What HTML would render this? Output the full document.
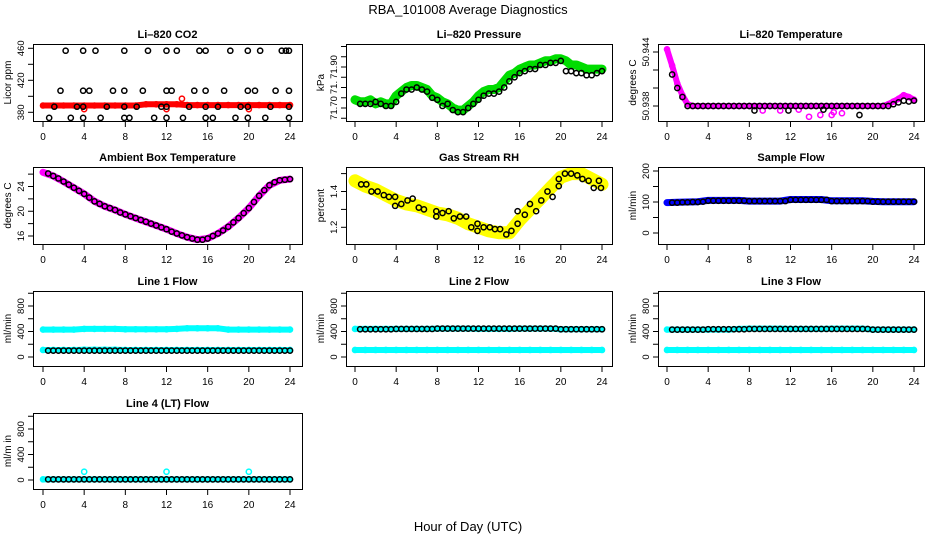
<!DOCTYPE html>
<html><head><meta charset="utf-8"><style>
html,body{margin:0;padding:0;background:#fff;}
svg{display:block;font-family:"Liberation Sans",sans-serif;}
</style></head><body>
<svg id="chart" width="936" height="540" viewBox="0 0 936 540">
<text x="468" y="14" text-anchor="middle" font-size="13">RBA_101008  Average Diagnostics</text>
<text x="468" y="531" text-anchor="middle" font-size="13">Hour of Day (UTC)</text>
</svg>
<script>
// ---------- data ----------
const H = [0,1,2,3,4,5,6,7,8,9,10,11,12,13,14,15,16,17,18,19,20,21,22,23,24];
const HH = [0,0.5,1,1.5,2,2.5,3,3.5,4,4.5,5,5.5,6,6.5,7,7.5,8,8.5,9,9.5,10,10.5,11,11.5,12,12.5,13,13.5,14,14.5,15,15.5,16,16.5,17,17.5,18,18.5,19,19.5,20,20.5,21,21.5,22,22.5,23,23.5,24];
const HB = [0.5,1,1.5,2,2.5,3,3.5,4,4.5,5,5.5,6,6.5,7,7.5,8,8.5,9,9.5,10,10.5,11,11.5,12,12.5,13,13.5,14,14.5,15,15.5,16,16.5,17,17.5,18,18.5,19,19.5,20,20.5,21,21.5,22,22.5,23,23.5,24];
const xTicks = [0,4,8,12,16,20,24];

// CO2
const co2Red = [388.5,388.5,388.5,388.5,388.5,388.5,388.5,388.5,388.5,388.5,390,390,390,390,389,389,389,389,389,389,389,389,389,389,389];
const co2RedOutT = [4,12,20,13.5];
const co2RedOutV = [384,384,384,397];
const co2BlkT = [2.2,3.9,5.1,7.9,10.2,12,13,15.2,15.8,18.2,19.9,21.1,23.2,23.6,23.9,
 1.7,3.9,4.5,6.8,7.9,9.7,12,12.5,14.7,15.8,17.6,19.9,20.6,22.6,23.9,
 1.1,3.3,3.9,6.2,7.9,9.1,11.5,12,14.2,15.8,17,19.2,19.9,22.1,23.9,
 0.6,2.7,3.9,5.6,7.9,8.4,10.8,12,13.6,15.8,16.5,18.7,19.9,21.6,23.9];
const co2BlkV = [457,457,457,457,457,457,457,457,457,457,457,457,457,457,457,
 407,407,407,407,407,407,407,407,407,407,407,407,407,407,407,
 387,387,387,387,387,387,387,387,387,387,387,387,387,387,387,
 373,373,373,373,373,373,373,373,373,373,373,373,373,373,373];

// Pressure
const presGreen = [71.74,71.73,71.73,71.74,71.72,71.73,71.72,71.72,71.76,71.78,71.80,71.81,71.81,71.80,71.79,71.76,71.75,71.73,71.72,71.70,71.69,71.69,71.71,71.73,71.76,71.78,71.79,71.79,71.80,71.83,71.86,71.87,71.89,71.90,71.91,71.91,71.92,71.93,71.93,71.94,71.94,71.93,71.91,71.91,71.90,71.89,71.89,71.89,71.89];
const presBlack = [71.72,71.72,71.72,71.73,71.72,71.71,71.71,71.73,71.77,71.79,71.79,71.80,71.79,71.78,71.75,71.74,71.71,71.72,71.69,71.68,71.68,71.70,71.72,71.74,71.76,71.77,71.77,71.78,71.80,71.83,71.85,71.87,71.88,71.89,71.89,71.91,71.91,71.92,71.92,71.93,71.88,71.88,71.87,71.87,71.86,71.86,71.87,71.88];

// Li-820 temperature
const tempMag = [50.9443,50.9425,50.9405,50.9392,50.9382,50.938,50.938,50.938,50.938,50.938,50.938,50.938,50.938,50.938,50.938,50.938,50.938,50.938,50.938,50.938,50.938,50.938,50.938,50.938,50.938,50.938,50.938,50.938,50.938,50.938,50.938,50.938,50.938,50.938,50.938,50.938,50.938,50.938,50.938,50.938,50.938,50.938,50.938,50.9382,50.9385,50.9388,50.9392,50.9390,50.9387];
const tempBlack = [50.9415,50.9400,50.9390,50.938,50.938,50.938,50.938,50.938,50.938,50.938,50.938,50.938,50.938,50.938,50.938,50.938,50.938,50.938,50.938,50.938,50.938,50.938,50.938,50.938,50.938,50.938,50.938,50.938,50.938,50.938,50.938,50.938,50.938,50.938,50.938,50.938,50.938,50.938,50.938,50.938,50.938,50.938,50.938,50.9382,50.9384,50.9386,50.9385,50.9386];
const tempMagOutT = [9.3,11,13.8,14.9,16,16.2,17,12.8];
const tempMagOutV = [50.9375,50.9375,50.9368,50.9370,50.9370,50.9373,50.9372,50.9376];
const tempBlkOutT = [8.5,11.8,15.2,18.7];
const tempBlkOutV = [50.9375,50.9375,50.9376,50.9370];

// Ambient box temperature
const ambMag = [26.3,25.7,24.8,23.8,22.8,21.6,20.8,20.2,19.5,18.9,18.3,17.7,17.1,16.4,15.8,15.4,15.6,16.4,17.5,18.9,20.5,22.5,24.2,25.0,25.2];
const ambBlack = [26.1,25.7,25.3,24.8,24.3,23.8,23.3,22.8,22.2,21.6,21.2,20.8,20.5,20.2,19.8,19.5,19.2,18.9,18.6,18.3,18.0,17.7,17.4,17.1,16.7,16.4,16.1,15.8,15.6,15.4,15.4,15.6,16.0,16.4,16.9,17.5,18.2,18.9,19.7,20.5,21.5,22.5,23.4,24.2,24.7,25.0,25.1,25.2];

// Gas stream RH
const rhYellow = [1.46,1.43,1.41,1.38,1.35,1.33,1.32,1.30,1.28,1.27,1.25,1.22,1.20,1.18,1.17,1.17,1.24,1.30,1.36,1.42,1.48,1.50,1.50,1.47,1.44];
const rhBlkT = [0.6,1.1,1.6,2.2,2.8,3.3,3.9,3.9,4.5,5.1,5.6,6.2,6.7,7.9,7.9,8.5,9.1,9.6,10.2,10.8,11.3,11.9,11.9,12.5,13.1,13.6,14.1,14.7,15.2,15.8,15.8,16.5,17.0,17.6,18.1,18.7,19.2,19.8,19.8,20.4,21,21.6,22.1,22.7,23.2,23.7,23.9];
const rhBlkV = [1.44,1.44,1.40,1.40,1.38,1.37,1.37,1.32,1.33,1.35,1.36,1.31,1.30,1.29,1.26,1.28,1.29,1.25,1.26,1.26,1.20,1.22,1.18,1.20,1.20,1.19,1.19,1.16,1.18,1.29,1.22,1.27,1.33,1.29,1.35,1.40,1.37,1.47,1.43,1.50,1.50,1.49,1.47,1.46,1.42,1.46,1.42];

// Sample flow
const sampBlue = [98,99,100,101,105,105,105,105,103,103,103,103,108,108,108,108,104,104,104,104,102,101,101,101,101];
const sampBlack = [98,98,99,99,100,100,101,104,104,104,104,104,104,104,104,103,103,103,103,103,103,103,103,107,107,107,107,107,107,107,107,103,103,103,103,103,103,103,103,101,101,101,101,101,101,101,101,101];

// Line flows
const l1CyanHi = [430,430,430,430,440,440,440,440,435,435,435,435,435,440,450,450,450,450,430,430,430,430,430,430,430];
const l1CyanLo = [110,110,110,110,115,115,115,115,110,110,110,110,110,110,110,110,110,110,110,110,110,110,110,110,110];
const l1Black = [100,100,100,100,100,100,100,100,100,100,100,100,100,100,100,100,100,100,100,100,100,100,100,100,100,100,100,100,100,100,100,100,100,100,100,100,100,100,100,100,100,100,100,100,100,100,100,100];
const l2CyanHi = [440,440,440,440,440,440,440,440,445,445,445,445,440,440,440,440,445,445,445,445,435,435,435,435,435];
const l2CyanLo = [110,110,110,110,110,110,110,110,110,110,110,110,110,110,110,110,110,110,110,110,110,110,110,110,110];
const l2Black = [435,435,435,435,435,435,435,440,440,440,440,440,440,440,440,445,445,445,445,445,445,445,445,445,445,445,445,445,445,445,445,445,445,445,445,445,445,445,445,435,435,435,435,435,435,435,435,435];
const l3CyanHi = [430,430,430,430,430,430,430,440,445,445,445,445,440,440,440,440,445,445,445,445,430,430,430,430,430];
const l3CyanLo = [110,110,110,110,110,110,110,110,110,110,110,110,110,110,110,110,110,110,110,110,110,110,110,110,110];
const l3Black = [430,430,430,430,430,430,430,435,435,435,435,435,435,435,435,440,440,440,440,440,440,440,440,440,440,440,440,440,440,440,440,440,440,440,440,440,440,440,440,430,430,430,430,430,430,430,430,430];
const l4Cyan = [10,10,10,10,10,10,10,10,10,10,10,10,10,10,10,10,10,10,10,10,10,10,10,10,10];
const l4Black = [10,10,10,10,10,10,10,10,10,10,10,10,10,10,10,10,10,10,10,10,10,10,10,10,10,10,10,10,10,10,10,10,10,10,10,10,10,10,10,10,10,10,10,10,10,10,10,10];
const l4OutT = [4,12,20];
const l4OutV = [130,130,130];

// ---------- layout ----------
const svg = document.getElementById('chart');
const NS = 'http://www.w3.org/2000/svg';
const colL = [33,346,658], colR = [302,612,924], colX0 = [43,355,667];
const rowT = [44,167,291,413], rowB = [121,244,366,489];

function mk(tag, attrs, parent){
  const e = document.createElementNS(NS, tag);
  for (const k in attrs) e.setAttribute(k, attrs[k]);
  (parent||svg).appendChild(e);
  return e;
}

function panel(name, title, ylabel, col, row, yv0, yp0, yv1, yp1, yTicks, yLabels){
  const g = mk('g', {});
  
  
  const L = colL[col], R = colR[col], T = rowT[row], B = rowB[row];
  const x = t => colX0[col] + t * 247 / 24;
  const y = v => yp0 + (v - yv0) * (yp1 - yp0) / (yv1 - yv0);
  const clipId = 'clip-' + name;
  const cp = mk('clipPath', {id: clipId}, g);
  mk('rect', {x: L, y: T, width: R - L, height: B - T}, cp);
  const plot = mk('g', {'clip-path': 'url(#' + clipId + ')'}, g);
  
  
  const frame = mk('rect', {x: L + 0.5, y: T + 0.5, width: R - L, height: B - T, fill: 'none', stroke: '#000', 'stroke-width': 1}, g);
  
  
  const tt = mk('text', {x: (L + R) / 2, y: T - 6, 'text-anchor': 'middle', 'font-size': 11, 'font-weight': 'bold'}, g);
  tt.textContent = title;
  
  
  xTicks.forEach(t => {
    mk('line', {x1: x(t), x2: x(t), y1: B + 1, y2: B + 6, stroke: '#000'}, g);
    const lb = mk('text', {x: x(t), y: B + 19, 'text-anchor': 'middle', 'font-size': 10}, g);
    lb.textContent = t;
    
    
  });
  yTicks.forEach(v => {
    const yy = y(v);
    if (yy < T - 2 || yy > B + 2) return;
    mk('line', {x1: L - 5, x2: L, y1: yy, y2: yy, stroke: '#000'}, g);
  });
  yLabels.forEach(([v, s]) => {
    const yy = y(v), xx = L - 9;
    const lb = mk('text', {x: xx, y: yy, 'text-anchor': 'middle', 'font-size': 9.5, transform: 'rotate(-90 ' + xx + ' ' + yy + ')'}, g);
    lb.textContent = s;
    
    
  });
  const yc = (T + B) / 2, yx = L - 22;
  const yl = mk('text', {x: yx, y: yc, 'text-anchor': 'middle', 'font-size': 10, transform: 'rotate(-90 ' + yx + ' ' + yc + ')'}, g);
  yl.textContent = ylabel;
  
  
  return {x, y, plot};
}

function band(p, ts, vs, color, w, name){
  const pts = ts.map((t, i) => p.x(t).toFixed(1) + ',' + p.y(vs[i]).toFixed(1)).join(' ');
  const pl = mk('polyline', {points: pts, fill: 'none', stroke: color, 'stroke-width': w, 'stroke-linecap': 'round', 'stroke-linejoin': 'round'}, p.plot);
  
  
  ts.forEach((t, i) => {
    const c = mk('circle', {cx: p.x(t), cy: p.y(vs[i]), r: 2.6, fill: 'none', stroke: color, 'stroke-width': 1.4}, p.plot);
    
    
  });
}
function pts(p, ts, vs, color, name){
  ts.forEach((t, i) => {
    const c = mk('circle', {cx: p.x(t), cy: p.y(vs[i]), r: 2.6, fill: 'none', stroke: color, 'stroke-width': 1.5}, p.plot);
    
    
  });
}

let p = panel('co2-panel', 'Li\u2013820 CO2', 'Licor ppm', 0, 0, 380, 112.3, 460, 48.3,
  [380,400,420,440,460], [[380,'380'],[420,'420'],[460,'460']]);
band(p, H, co2Red, '#ff0000', 6, 'co2-red-series');
pts(p, co2RedOutT, co2RedOutV, '#ff0000', 'co2-red-outlier');
pts(p, co2BlkT, co2BlkV, '#000', 'co2-black-point');

p = panel('pressure-panel', 'Li\u2013820 Pressure', 'kPa', 1, 0, 71.70, 108, 71.90, 67,
  [71.65,71.70,71.75,71.80,71.85,71.90,71.95,72.0], [[71.70,'71.70'],[71.80,'71.'],[71.90,'71.90']]);
band(p, HH, presGreen, '#00dd00', 9, 'pressure-green-series');
pts(p, HB, presBlack, '#000', 'pressure-black-point');

p = panel('li820-temp-panel', 'Li\u2013820 Temperature', 'degrees C', 2, 0, 50.938, 106, 50.944, 52,
  [50.938,50.940,50.942,50.944], [[50.938,'50.938'],[50.944,'50.944']]);
band(p, HH, tempMag, '#ff00ff', 6, 'temp-magenta-series');
pts(p, tempMagOutT, tempMagOutV, '#ff00ff', 'temp-magenta-outlier');
pts(p, HB, tempBlack, '#000', 'temp-black-point');
pts(p, tempBlkOutT, tempBlkOutV, '#000', 'temp-black-outlier');

p = panel('ambient-temp-panel', 'Ambient Box Temperature', 'degrees C', 0, 1, 16, 236, 24, 186.5,
  [16,18,20,22,24,26], [[16,'16'],[20,'20'],[24,'24']]);
band(p, H, ambMag, '#ff00ff', 7, 'ambient-magenta-series');
pts(p, HB, ambBlack, '#000', 'ambient-black-point');

p = panel('rh-panel', 'Gas Stream RH', 'percent', 1, 1, 1.2, 227.3, 1.4, 191.5,
  [1.2,1.3,1.4,1.5], [[1.2,'1.2'],[1.4,'1.4']]);
band(p, H, rhYellow, '#ffff00', 13, 'rh-yellow-series');
pts(p, rhBlkT, rhBlkV, '#000', 'rh-black-point');

p = panel('sample-flow-panel', 'Sample Flow', 'ml/min', 2, 1, 0, 233, 200, 171,
  [0,50,100,150,200], [[0,'0'],[100,'100'],[200,'200']]);
band(p, H, sampBlue, '#0000ff', 7, 'sample-blue-series');
pts(p, HB, sampBlack, '#000', 'sample-black-point');

const flowTicks = [0,200,400,600,800,1000];
const flowLabels = [[0,'0'],[400,'400'],[800,'800']];
p = panel('line1-flow-panel', 'Line 1 Flow', 'ml/min', 0, 2, 0, 357, 800, 306, flowTicks, flowLabels);
band(p, H, l1CyanHi, '#00ffff', 6, 'line1-cyan-high');
band(p, H, l1CyanLo, '#00ffff', 6, 'line1-cyan-low');
pts(p, HB, l1Black, '#000', 'line1-black-point');
p = panel('line2-flow-panel', 'Line 2 Flow', 'ml/min', 1, 2, 0, 357, 800, 306, flowTicks, flowLabels);
band(p, H, l2CyanHi, '#00ffff', 6, 'line2-cyan-high');
band(p, H, l2CyanLo, '#00ffff', 6, 'line2-cyan-low');
pts(p, HB, l2Black, '#000', 'line2-black-point');
p = panel('line3-flow-panel', 'Line 3 Flow', 'ml/min', 2, 2, 0, 357, 800, 306, flowTicks, flowLabels);
band(p, H, l3CyanHi, '#00ffff', 6, 'line3-cyan-high');
band(p, H, l3CyanLo, '#00ffff', 6, 'line3-cyan-low');
pts(p, HB, l3Black, '#000', 'line3-black-point');
p = panel('line4-flow-panel', 'Line 4 (LT) Flow', 'ml/m in', 0, 3, 0, 480, 800, 429, flowTicks, flowLabels);
band(p, H, l4Cyan, '#00ffff', 6, 'line4-cyan-series');
pts(p, l4OutT, l4OutV, '#00ffff', 'line4-cyan-outlier');
pts(p, HB, l4Black, '#000', 'line4-black-point');
</script>
</body></html>
